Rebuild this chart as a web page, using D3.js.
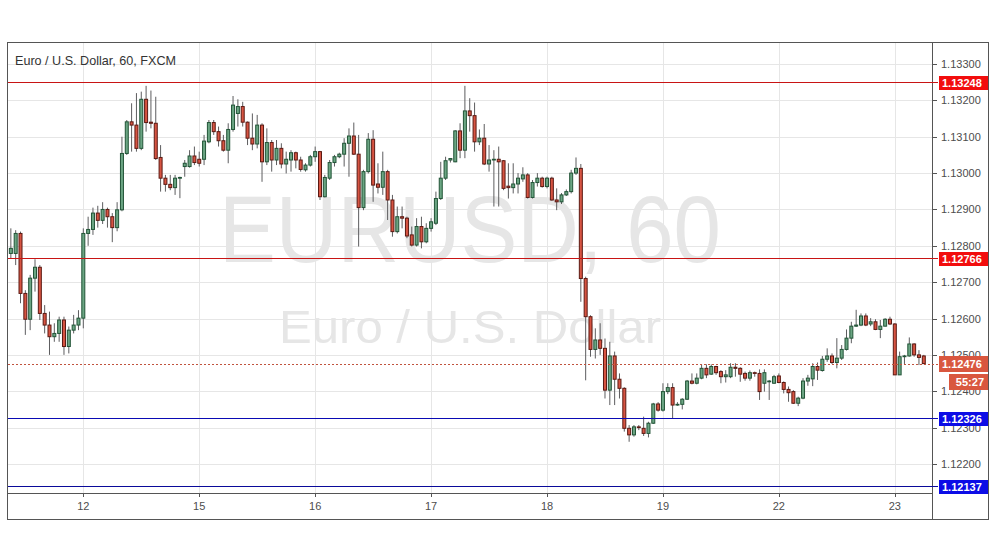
<!DOCTYPE html>
<html><head><meta charset="utf-8">
<script src="https://cdn.jsdelivr.net/npm/d3@7"></script>
<style>html,body{margin:0;padding:0;background:#fff;}svg{display:block;}</style>
</head><body><svg id="chart" width="995" height="556"></svg>
<script>
// ---------- data ----------
const title = "Euro / U.S. Dollar, 60, FXCM";
const watermarkBig = "EURUSD, 60";
const watermarkSmall = "Euro / U.S. Dollar";
const opens = [1.12779,1.12779,1.12834,1.12669,1.12598,1.12711,1.12741,1.12614,1.12582,1.12550,
1.12559,1.12596,1.12523,1.12568,1.12582,1.12601,1.12834,1.12845,1.12890,1.12870,
1.12900,1.12880,1.12850,1.12899,1.13054,1.13141,1.13132,1.13068,1.13203,1.13140,
1.13137,1.13043,1.12986,1.12969,1.12960,1.12986,1.13018,1.13018,1.13047,1.13038,
1.13038,1.13086,1.13139,1.13114,1.13089,1.13063,1.13120,1.13164,1.13183,1.13140,
1.13096,1.13080,1.13132,1.13031,1.13084,1.13036,1.13068,1.13025,1.13036,1.13056,
1.13036,1.13009,1.13022,1.13045,1.13059,1.12935,1.12986,1.13029,1.13045,1.13052,
1.13082,1.13102,1.13052,1.12905,1.13004,1.13093,1.12970,1.12961,1.13004,1.12926,
1.12839,1.12880,1.12876,1.12830,1.12802,1.12853,1.12811,1.12848,1.12862,1.12930,
1.12986,1.13036,1.13031,1.13116,1.13063,1.13171,1.13158,1.13086,1.13096,1.13025,
1.13036,1.13038,1.13034,1.12964,1.12960,1.12970,1.12984,1.12995,1.12933,1.12974,
1.12986,1.12963,1.12986,1.12926,1.12921,1.12940,1.12949,1.13000,1.13013,1.12710,
1.12605,1.12515,1.12541,1.12518,1.12403,1.12497,1.12433,1.12408,1.12298,1.12280,
1.12302,1.12298,1.12284,1.12312,1.12365,1.12348,1.12399,1.12410,1.12362,1.12364,
1.12378,1.12428,1.12422,1.12436,1.12463,1.12447,1.12468,1.12454,1.12440,1.12440,
1.12466,1.12463,1.12449,1.12436,1.12451,1.12449,1.12422,1.12426,1.12422,1.12442,
1.12424,1.12405,1.12399,1.12367,1.12381,1.12428,1.12434,1.12468,1.12457,1.12488,
1.12497,1.12479,1.12491,1.12515,1.12546,1.12579,1.12582,1.12607,1.12585,1.12591,
1.12570,1.12579,1.12598,1.12585,1.12445,1.12495,1.12497,1.12530,1.12500,1.12497];
const highs = [1.12848,1.12843,1.12839,1.12678,1.12720,1.12763,1.12747,1.12637,1.12619,1.12587,
1.12605,1.12605,1.12578,1.12610,1.12623,1.12848,1.12880,1.12905,1.12910,1.12920,
1.12905,1.12890,1.12920,1.13100,1.13146,1.13192,1.13220,1.13224,1.13240,1.13227,
1.13210,1.13077,1.12995,1.12995,1.12995,1.12990,1.13036,1.13063,1.13073,1.13059,
1.13105,1.13146,1.13146,1.13128,1.13105,1.13137,1.13212,1.13203,1.13196,1.13142,
1.13164,1.13160,1.13137,1.13123,1.13091,1.13091,1.13082,1.13059,1.13063,1.13059,
1.13045,1.13027,1.13050,1.13073,1.13061,1.12995,1.13036,1.13050,1.13056,1.13096,
1.13123,1.13139,1.13105,1.13009,1.13110,1.13118,1.13027,1.13059,1.13009,1.12940,
1.12908,1.12908,1.12880,1.12853,1.12876,1.12880,1.12862,1.12876,1.12949,1.13031,
1.13045,1.13041,1.13118,1.13137,1.13240,1.13206,1.13194,1.13120,1.13135,1.13077,
1.13063,1.13073,1.13036,1.13027,1.13027,1.13000,1.13016,1.13000,1.12981,1.13000,
1.12990,1.12990,1.12990,1.12958,1.12945,1.12955,1.13009,1.13043,1.13025,1.12715,
1.12609,1.12573,1.12587,1.12545,1.12536,1.12509,1.12449,1.12411,1.12307,1.12307,
1.12307,1.12330,1.12316,1.12368,1.12370,1.12422,1.12422,1.12422,1.12370,1.12381,
1.12431,1.12449,1.12449,1.12474,1.12474,1.12474,1.12470,1.12458,1.12458,1.12477,
1.12477,1.12466,1.12454,1.12457,1.12454,1.12460,1.12460,1.12431,1.12445,1.12449,
1.12427,1.12413,1.12403,1.12385,1.12436,1.12445,1.12477,1.12479,1.12497,1.12518,
1.12504,1.12546,1.12527,1.12570,1.12591,1.12624,1.12614,1.12614,1.12601,1.12598,
1.12596,1.12601,1.12605,1.12587,1.12509,1.12500,1.12548,1.12532,1.12513,1.12500];
const lows = [1.12766,1.12747,1.12642,1.12555,1.12568,1.12674,1.12596,1.12559,1.12500,1.12536,
1.12536,1.12500,1.12504,1.12559,1.12568,1.12573,1.12800,1.12830,1.12850,1.12860,
1.12850,1.12810,1.12840,1.12895,1.13050,1.13059,1.13059,1.13063,1.13114,1.13123,
1.13036,1.12949,1.12949,1.12953,1.12940,1.12931,1.12990,1.13015,1.13022,1.13018,
1.13022,1.13082,1.13105,1.13073,1.13059,1.13027,1.13114,1.13128,1.13128,1.13077,
1.13063,1.13068,1.12976,1.13022,1.13004,1.13022,1.13013,1.12999,1.13004,1.13013,
1.13004,1.13004,1.13018,1.13031,1.12926,1.12933,1.12981,1.13018,1.13041,1.13018,
1.12990,1.13050,1.12798,1.12898,1.12999,1.12921,1.12944,1.12940,1.12871,1.12825,
1.12834,1.12848,1.12821,1.12798,1.12798,1.12793,1.12807,1.12839,1.12857,1.12926,
1.12981,1.13029,1.13030,1.13041,1.13041,1.13114,1.13059,1.13077,1.13022,1.13004,
1.12908,1.12908,1.12953,1.12930,1.12944,1.12944,1.12976,1.12930,1.12930,1.12963,
1.12960,1.12958,1.12924,1.12898,1.12915,1.12937,1.12944,1.12995,1.12646,1.12430,
1.12495,1.12490,1.12500,1.12380,1.12362,1.12362,1.12380,1.12289,1.12261,1.12275,
1.12293,1.12277,1.12273,1.12310,1.12344,1.12344,1.12392,1.12326,1.12360,1.12350,
1.12376,1.12419,1.12419,1.12433,1.12436,1.12445,1.12445,1.12422,1.12424,1.12436,
1.12440,1.12426,1.12429,1.12429,1.12440,1.12376,1.12399,1.12376,1.12420,1.12422,
1.12394,1.12371,1.12365,1.12359,1.12378,1.12415,1.12414,1.12431,1.12454,1.12481,
1.12475,1.12463,1.12486,1.12512,1.12532,1.12577,1.12579,1.12579,1.12579,1.12568,
1.12546,1.12578,1.12582,1.12445,1.12445,1.12475,1.12495,1.12495,1.12472,1.12475];
const closes = [1.12793,1.12834,1.12669,1.12598,1.12711,1.12741,1.12614,1.12582,1.12550,1.12559,
1.12596,1.12523,1.12568,1.12582,1.12601,1.12834,1.12845,1.12890,1.12870,1.12900,
1.12880,1.12850,1.12899,1.13054,1.13141,1.13132,1.13068,1.13203,1.13139,1.13137,
1.13040,1.12986,1.12969,1.12960,1.12986,1.12988,1.13027,1.13047,1.13029,1.13027,
1.13088,1.13139,1.13114,1.13089,1.13063,1.13120,1.13187,1.13183,1.13140,1.13096,
1.13080,1.13132,1.13031,1.13084,1.13036,1.13068,1.13025,1.13038,1.13056,1.13036,
1.13010,1.13022,1.13045,1.13059,1.12935,1.12988,1.13029,1.13045,1.13052,1.13082,
1.13102,1.13052,1.12905,1.13004,1.13093,1.12967,1.12961,1.13004,1.12926,1.12839,
1.12880,1.12876,1.12827,1.12802,1.12853,1.12811,1.12848,1.12866,1.12930,1.12986,
1.13034,1.13040,1.13116,1.13063,1.13171,1.13158,1.13086,1.13096,1.13025,1.13036,
1.13038,1.13031,1.12958,1.12960,1.12970,1.12986,1.12995,1.12933,1.12974,1.12986,
1.12963,1.12986,1.12926,1.12921,1.12940,1.12949,1.13000,1.13013,1.12710,1.12605,
1.12515,1.12541,1.12518,1.12403,1.12497,1.12433,1.12408,1.12298,1.12280,1.12302,
1.12300,1.12284,1.12312,1.12365,1.12348,1.12399,1.12410,1.12362,1.12364,1.12378,
1.12428,1.12422,1.12436,1.12463,1.12445,1.12468,1.12451,1.12440,1.12445,1.12466,
1.12463,1.12447,1.12436,1.12451,1.12449,1.12399,1.12451,1.12428,1.12440,1.12424,
1.12405,1.12396,1.12367,1.12381,1.12428,1.12436,1.12468,1.12458,1.12488,1.12497,
1.12479,1.12491,1.12515,1.12546,1.12579,1.12582,1.12607,1.12582,1.12591,1.12570,
1.12579,1.12598,1.12585,1.12445,1.12495,1.12497,1.12530,1.12500,1.12493,1.12476];
const dayTickIndex = [15,39,63,87,111,135,159,183];
const dayTickLabels = ["12","15","16","17","18","19","22","23"];
const priceTicks = [1.122,1.123,1.124,1.125,1.126,1.127,1.128,1.129,1.130,1.131,1.132,1.133];
const levelValues = [1.13248,1.12766,1.12326,1.12137];
const levelColors = ["#c81414","#c81414","#0a0ab4","#0a0a9a"];
const levelBoxColors = ["#f20d0d","#f20d0d","#0c0ce6","#0c0ce6"];
const lastPrice = 1.12476;
const countdown = "55:27";

// ---------- layout ----------
const L = 8, R = 932, T = 43, B = 493, AR = 988, FB = 519;
const svg = d3.select("#chart");
const font = "'Liberation Sans', Arial, sans-serif";

const x = d3.scaleLinear().domain([-0.59, 190.7]).range([L, R]);
const y = d3.scaleLinear().domain([1.121201, 1.133578]).range([B, T]);

svg.append("rect").attr("width",995).attr("height",556).attr("fill","#fff");

// grid
const grid = svg.append("g");
grid.selectAll("line.h").data(priceTicks).join("line")
  .attr("x1",L).attr("x2",R)
  .attr("y1",d=>Math.round(y(d))+0.5).attr("y2",d=>Math.round(y(d))+0.5)
  .attr("stroke","#e6e6e6");
grid.selectAll("line.v").data(dayTickIndex).join("line")
  .attr("y1",T).attr("y2",B)
  .attr("x1",d=>Math.round(x(d))+0.5).attr("x2",d=>Math.round(x(d))+0.5)
  .attr("stroke","#e6e6e6");

// watermark
const cxm = (L+R)/2;
svg.append("text").attr("x",cxm).attr("y",262).attr("text-anchor","middle")
  .attr("font-family",font).attr("font-size",94).attr("fill","#e6e6e6")
  .attr("textLength",502).attr("lengthAdjust","spacingAndGlyphs").text(watermarkBig);
svg.append("text").attr("x",cxm).attr("y",343).attr("text-anchor","middle")
  .attr("font-family",font).attr("font-size",47).attr("fill","#e6e6e6")
  .attr("textLength",382).attr("lengthAdjust","spacingAndGlyphs").text(watermarkSmall);

// title
svg.append("text").attr("x",15).attr("y",65).attr("font-family",font)
  .attr("font-size",12.6).attr("fill","#333").text(title);

// candles
const data = opens.map((o,i)=>({i, o, h:highs[i], l:lows[i], c:closes[i]}));
const cg = svg.append("g");
cg.selectAll("line").data(data).join("line")
  .attr("x1",d=>x(d.i)).attr("x2",d=>x(d.i))
  .attr("y1",d=>y(d.h)).attr("y2",d=>y(d.l))
  .attr("stroke","#5d5d5f").attr("stroke-width",1);
cg.selectAll("rect").data(data).join("rect")
  .attr("x",d=>x(d.i)-1.5).attr("width",3)
  .attr("y",d=>y(Math.max(d.o,d.c)))
  .attr("height",d=>Math.max(0.6, Math.abs(y(d.o)-y(d.c))))
  .attr("fill",d=>d.c>=d.o?"#6ba583":"#d75442")
  .attr("stroke",d=>d.c>=d.o?"#225437":"#5b1a13").attr("stroke-width",1);

// frame
svg.append("rect").attr("x",L-0.5).attr("y",T-0.5).attr("width",AR-L+1).attr("height",FB-T+1)
  .attr("fill","none").attr("stroke","#555");
svg.append("line").attr("x1",R+0.5).attr("x2",R+0.5).attr("y1",T).attr("y2",FB).attr("stroke","#555");
svg.append("line").attr("x1",L).attr("x2",R).attr("y1",B+0.5).attr("y2",B+0.5).attr("stroke","#555");

// level lines (drawn over frame)
const lv = svg.append("g");
lv.selectAll("line").data(levelValues).join("line")
  .attr("x1",L).attr("x2",938)
  .attr("y1",d=>Math.floor(y(d))+0.5).attr("y2",d=>Math.floor(y(d))+0.5)
  .attr("stroke",(d,i)=>levelColors[i]).attr("stroke-width",1);

// current price line
svg.append("line").attr("x1",L).attr("x2",938)
  .attr("y1",Math.round(y(lastPrice))+0.5).attr("y2",Math.round(y(lastPrice))+0.5)
  .attr("stroke","#c0533e").attr("stroke-dasharray","2,2");

// price axis
const pa = svg.append("g");
pa.selectAll("line").data(priceTicks).join("line")
  .attr("x1",R).attr("x2",R+5)
  .attr("y1",d=>Math.round(y(d))+0.5).attr("y2",d=>Math.round(y(d))+0.5).attr("stroke","#555");
pa.selectAll("text").data(priceTicks).join("text")
  .attr("x",941).attr("y",d=>y(d)+4).attr("font-family",font).attr("font-size",11)
  .attr("fill","#4d4d4d").text(d=>d3.format(".5f")(d));

// time axis
const ta = svg.append("g");
ta.selectAll("line").data(dayTickIndex).join("line")
  .attr("x1",d=>Math.round(x(d))+0.5).attr("x2",d=>Math.round(x(d))+0.5)
  .attr("y1",B).attr("y2",B+4).attr("stroke","#555");
ta.selectAll("text").data(dayTickIndex).join("text")
  .attr("x",d=>x(d)).attr("y",510).attr("text-anchor","middle")
  .attr("font-family",font).attr("font-size",11).attr("fill","#4d4d4d")
  .text((d,i)=>dayTickLabels[i]);

// level labels
const lb = svg.append("g");
levelValues.forEach((v,i)=>{
  const yy = Math.floor(y(v));
  lb.append("rect").attr("x",939).attr("y",yy-6).attr("width",49).attr("height",14)
    .attr("fill",levelBoxColors[i]);
  lb.append("text").attr("x",942).attr("y",yy+5).attr("font-family",font)
    .attr("font-size",11).attr("font-weight","bold").attr("fill","#fff").text(d3.format(".5f")(v));
});
// current price label
const yl = Math.round(y(lastPrice));
lb.append("rect").attr("x",939).attr("y",yl-8).attr("width",49).attr("height",16).attr("fill","#d9573f");
lb.append("text").attr("x",942).attr("y",yl+4).attr("font-family",font)
  .attr("font-size",11).attr("font-weight","bold").attr("fill","#fff").text(d3.format(".5f")(lastPrice));
lb.append("rect").attr("x",949).attr("y",yl+10).attr("width",39).attr("height",16).attr("fill","#d9573f");
lb.append("text").attr("x",984).attr("y",yl+22).attr("text-anchor","end").attr("font-family",font)
  .attr("font-size",11).attr("font-weight","bold").attr("fill","#fff").text(countdown);
</script></body></html>
